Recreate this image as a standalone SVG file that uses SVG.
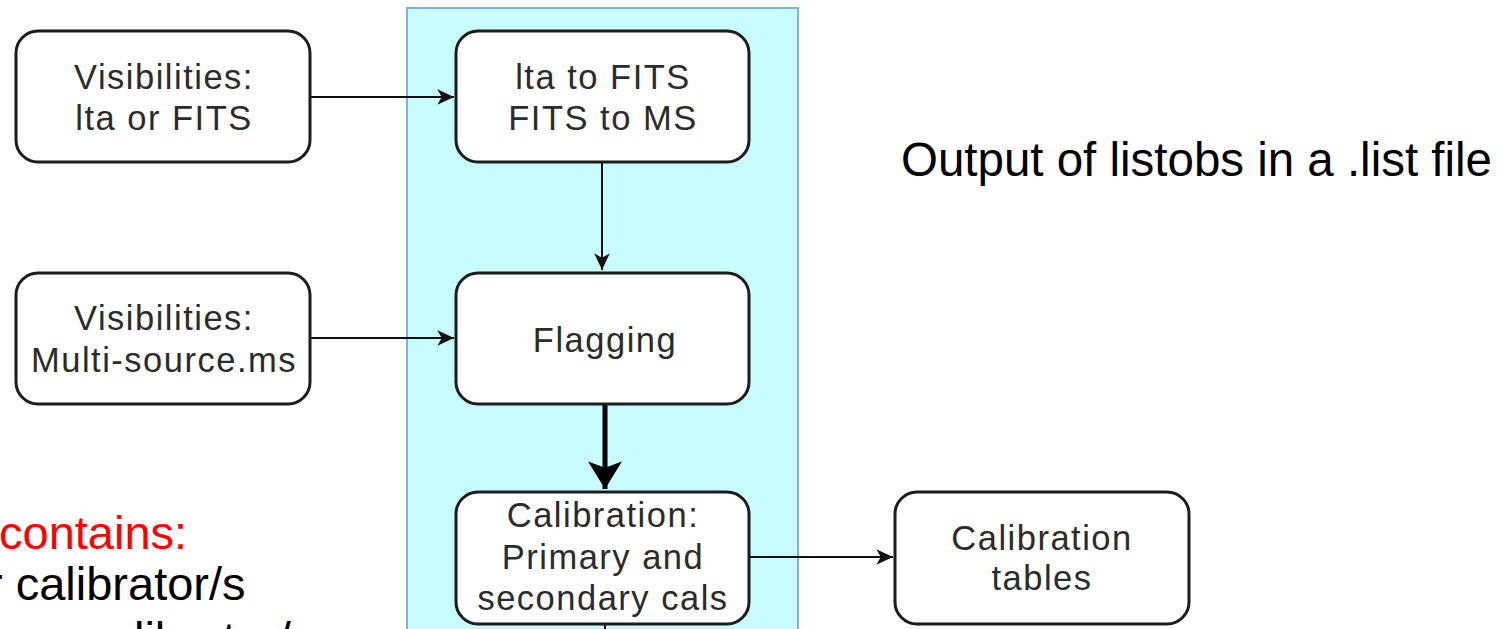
<svg xmlns="http://www.w3.org/2000/svg" width="1512" height="629" viewBox="0 0 1512 629">
  <style>
    .box { fill: #ffffff; stroke: #1c1c1c; stroke-width: 3; }
    .lbl { font-family: "Liberation Sans", Arial, sans-serif; font-size: 34.5px; fill: #2b2b2b; text-anchor: middle; letter-spacing: 1.5px; }
    .conn { stroke: #111111; stroke-width: 2; fill: none; }
    .thick { stroke: #000000; stroke-width: 5; fill: none; }
    .note { font-family: "Liberation Sans", Arial, sans-serif; font-size: 47px; fill: #000000; }
  </style>
  <defs>
    <marker id="ah" markerUnits="userSpaceOnUse" markerWidth="20" markerHeight="20" viewBox="-16 -8 18 16" refX="0" refY="0" orient="auto">
      <path d="M0,0 L-15,-7 L-11,0 L-15,7 Z" fill="#111111"/>
    </marker>
    <marker id="ahBig" markerUnits="userSpaceOnUse" markerWidth="30" markerHeight="36" viewBox="-27 -17 28 34" refX="0" refY="0" orient="auto">
      <path d="M0,0 L-26,-16 L-20,0 L-26,16 Z" fill="#000000"/>
    </marker>
  </defs>

  <rect id="panel" x="407" y="8" width="391" height="640" fill="#c8fcfd" stroke="#7fb0e8" stroke-width="2"/>

  <g id="connectors">
    <line class="conn" x1="311" y1="97" x2="454" y2="97" marker-end="url(#ah)"/>
    <line class="conn" x1="602" y1="163" x2="602" y2="270" marker-end="url(#ah)"/>
    <line class="conn" x1="311" y1="338" x2="454" y2="338" marker-end="url(#ah)"/>
    <line class="thick" x1="605" y1="405" x2="605" y2="489" marker-end="url(#ahBig)"/>
    <line class="conn" x1="750" y1="557" x2="893" y2="557" marker-end="url(#ah)"/>
    <line class="conn" x1="605" y1="625" x2="605" y2="640"/>
  </g>

  <g id="node-vis-lta">
    <rect class="box" x="16" y="31" width="294" height="131" rx="22"/>
    <text class="lbl" x="164" y="89">Visibilities:</text>
    <text class="lbl" x="164" y="130">lta or FITS</text>
  </g>

  <g id="node-convert">
    <rect class="box" x="456" y="31" width="293" height="131" rx="22"/>
    <text class="lbl" x="603" y="89">lta to FITS</text>
    <text class="lbl" x="603" y="130">FITS to MS</text>
  </g>

  <g id="node-vis-ms">
    <rect class="box" x="16" y="273" width="294" height="131" rx="22"/>
    <text class="lbl" x="164" y="330">Visibilities:</text>
    <text class="lbl" x="164" y="372">Multi-source.ms</text>
  </g>

  <g id="node-flagging">
    <rect class="box" x="456" y="273" width="293" height="131" rx="22"/>
    <text class="lbl" x="605" y="352">Flagging</text>
  </g>

  <g id="node-calibration">
    <rect class="box" x="456" y="492" width="293" height="132" rx="22"/>
    <text class="lbl" x="603" y="527">Calibration:</text>
    <text class="lbl" x="603" y="569">Primary and</text>
    <text class="lbl" x="603" y="610">secondary cals</text>
  </g>

  <g id="node-caltables">
    <rect class="box" x="895" y="492" width="294" height="132" rx="22"/>
    <text class="lbl" x="1042" y="550">Calibration</text>
    <text class="lbl" x="1042" y="590">tables</text>
  </g>

  <text id="listobs" x="901" y="176" font-family="'Liberation Sans', Arial, sans-serif" font-size="48" fill="#000000" textLength="591" lengthAdjust="spacingAndGlyphs">Output of listobs in a .list file</text>

  <g id="notes">
    <text class="note" x="-1" y="549" style="fill:#ff0000">contains:</text>
    <text class="note" x="-13" y="600">r calibrator/s</text>
    <text class="note" x="6" y="655">ary calibrator/s</text>
  </g>
</svg>
